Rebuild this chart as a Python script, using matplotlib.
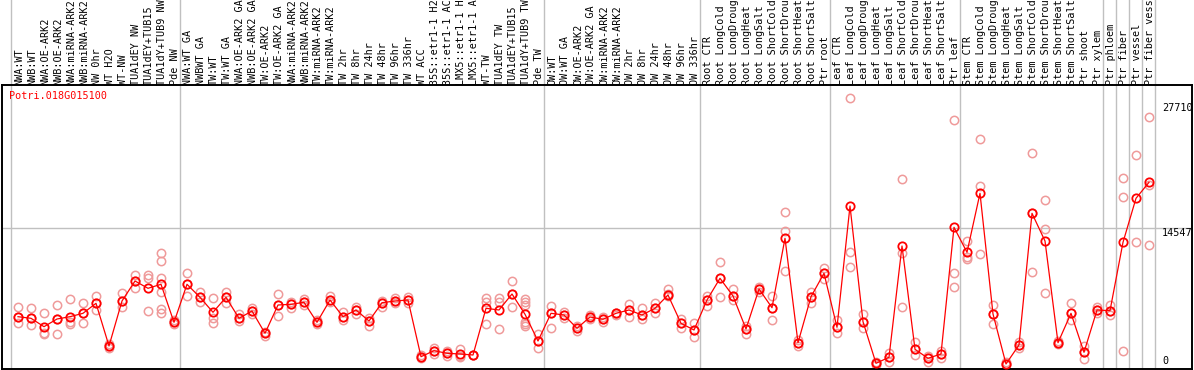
import matplotlib
matplotlib.use("Agg")
import matplotlib.pyplot as plt

labels = [
    "NWA:WT", "NWB:WT", "NWA:OE-ARK2", "NWB:OE-ARK2", "NWA:miRNA-ARK2", "NWB:miRNA-ARK2",
    "NW 0hr", "WT H2O", "WT-NW", "TUA1dEY NW", "TUA1dEY+TUB15", "TUA1dY+TUB9 NW", "Pde NW",
    "NWA:WT GA", "NWBWT GA", "TW:WT", "TW:WT GA", "NWA:OE-ARK2 GA", "NWB:OE-ARK2 GA",
    "TW:OE-ARK2", "TW:OE-ARK2 GA", "NWA:miRNA-ARK2", "NWB:miRNA-ARK2", "TW:miRNA-ARK2",
    "TW:miRNA-ARK2", "TW 2hr", "TW 8hr", "TW 24hr", "TW 48hr", "TW 96hr", "TW 336hr",
    "WT ACC", "35S::etr1-1 H2O", "35S::etr1-1 ACC", "LMX5::etr1-1 H2O", "LMX5::etr1-1 ACC",
    "WT-TW", "TUA1dEY TW", "TUA1dEY+TUB15", "TUA1dY+TUB9 TW", "Pde TW",
    "OW:WT", "OW:WT GA", "OW:OE-ARK2", "OW:OE-ARK2 GA", "OW:miRNA-ARK2", "OW:miRNA-ARK2",
    "OW 2hr", "OW 8hr", "OW 24hr", "OW 48hr", "OW 96hr", "OW 336hr",
    "Root CTR", "Root LongCold", "Root LongDrought", "Root LongHeat", "Root LongSalt",
    "Root ShortCold", "Root ShortDrought", "Root ShortHeat", "Root ShortSalt", "Ptr root",
    "Leaf CTR", "Leaf LongCold", "Leaf LongDrought", "Leaf LongHeat", "Leaf LongSalt",
    "Leaf ShortCold", "Leaf ShortDrought", "Leaf ShortHeat", "Leaf ShortSalt", "Ptr leaf",
    "Stem CTR", "Stem LongCold", "Stem LongDrought", "Stem LongHeat", "Stem LongSalt",
    "Stem ShortCold", "Stem ShortDrought", "Stem ShortHeat", "Stem ShortSalt",
    "Ptr shoot", "Ptr xylem", "Ptr phloem", "Ptr fiber", "Ptr vessel", "Ptr fiber vessel",
]

means = [
    5197, 5028, 4143, 4954, 5197, 5555, 6609, 2108, 6852, 8960, 8190, 8612, 4606,
    8612, 7242, 5661, 7242, 5028, 5798, 3447, 6430, 6504, 6715, 4606, 6957, 5197,
    5903, 4743, 6673, 6852, 6957, 980, 1613, 1339, 1265, 1160, 6082, 5903, 7590,
    5450, 2635,
    5555, 5376, 3974, 5165, 4923, 5555, 5903, 5376, 6082, 7484, 4501, 3795,
    6957, 9245, 7379, 3900, 8117, 6145, 13461, 2456, 7305, 9772,
    4079, 16866, 4670, 285, 917, 12649, 1760, 812, 1265, 14620,
    11985, 18204, 5481, 211, 2214, 16096, 13176, 2456, 5555, 1444, 5903,
    5829, 13039, 17677, 19364,
]

replicates = [
    [6188, 5165, 4533], [6082, 5060, 4322], [5555, 3510, 3373], [6430, 4954, 3342],
    [7062, 4638, 4396], [6609, 5587, 4501], [7379, 6641, 5903], [2319, 2108, 1897],
    [7663, 6852, 6188], [9592, 8960, 8254], [9592, 9245, 5829],
    [11880, 11100, 9245, 7769, 5977, 5618], [4849, 4638, 4427],
    [9772, 8612, 7379], [7769, 7274, 6778], [7200, 5028, 4564], [7769, 7242, 6673],
    [5450, 5028, 4743], [6082, 5798, 5481], [3573, 3447, 3162], [7590, 6430, 5302],
    [6778, 6504, 6082], [7062, 6715, 6430], [4849, 4606, 4427], [7379, 6957, 6715],
    [5724, 5197, 4849], [6251, 5903, 5450], [5091, 4743, 4216], [6883, 6673, 6188],
    [7136, 6852, 6609], [7305, 6957, 6609], [1160, 980, 812], [1929, 1613, 1265],
    [1581, 1339, 1054], [1824, 1054, 950], [1210, 1160, 1110], [7136, 6778, 4427],
    [7136, 6778, 3900], [8960, 7590, 6188], [7031, 6778, 6430, 4670, 4427, 4216],
    [3373, 2635, 1866],
    [6325, 5555, 4037], [5724, 5376, 5028], [4216, 3974, 3721], [5376, 5165, 4954],
    [5197, 4923, 4670], [5618, 5555, 5376], [6504, 5903, 5197], [6082, 5376, 4923],
    [6673, 6082, 5555], [8117, 7590, 7379], [4923, 4501, 3974], [4501, 3795, 3089],
    [7379, 6957, 6325], [10994, 9245, 7305], [8085, 7379, 6957], [4216, 3900, 3373],
    [8359, 8117, 7832], [7379, 6145, 4849], [16202, 14230, 10046], [2741, 2456, 2108],
    [7832, 7305, 6609], [10362, 9772, 9139],
    [4849, 4079, 3510], [28218, 12048, 10467], [5481, 4670, 3974], [422, 285, 105],
    [1339, 917, 453], [19680, 11880, 6251], [2498, 1760, 1160], [1054, 812, 453],
    [1581, 1265, 812], [25931, 9772, 8296],
    [13208, 11490, 11279], [23896, 18974, 11806], [6430, 5481, 4427], [369, 211, 53],
    [2562, 2214, 1929], [22421, 16096, 9877], [17498, 14441, 7727], [2583, 2456, 2319],
    [6609, 5555, 4849], [2140, 1444, 706], [6188, 5903, 5618],
    [6430, 5829, 5376], [19785, 17783, 1613], [22242, 13103], [26216, 19079, 12755],
]

group_bounds = [-0.5, 12.5, 40.5, 52.5, 62.5, 72.5, 83.5, 84.5, 85.5, 86.5, 87.5]
tick_values = [27710, 14547, 0]
gene = "Potri.018G015100"

W, H = 1194, 370
fig = plt.figure(figsize=(W / 100, H / 100), dpi=100)
ax_l, ax_r, ax_t, ax_b = 1.5, 1192, 85, 369
ax = fig.add_axes([ax_l / W, (H - ax_b) / H, (ax_r - ax_l) / W, (ax_b - ax_t) / H])

# pixel mapping: column i at x = 18 + 13 i
ax.set_xlim((ax_l - 18) / 13, (ax_r - 18) / 13)
slope = 138 / 14547.0
ax.set_ylim(-(ax_b - 366) / slope, (366 - ax_t) / slope)

mono = "DejaVu Sans Mono"
grid_c = "#c0c0c0"
ext = (H - ax_b + (ax_b - ax_t) + ax_t) / (ax_b - ax_t)
for b in group_bounds:
    ax.axvline(b, ymin=0, ymax=(ax_b) / (ax_b - ax_t), color=grid_c, lw=1.0,
               clip_on=False, zorder=0)
ax.axhline(14547, color=grid_c, lw=1.0, zorder=0)

xs = list(range(len(labels)))
for i, reps in enumerate(replicates):
    ax.plot([i] * len(reps), reps, linestyle="none", marker="o", ms=6.0,
            mfc="none", mec="#ef9a9a", mew=1.1, zorder=2, clip_on=False)

ax.plot(xs, means, color="#ff0000", lw=0.9, zorder=3)
ax.plot(xs, means, linestyle="none", marker="o", ms=6.0, mfc="none",
        mec="#ff0000", mew=1.3, zorder=4)

for i, lab in enumerate(labels):
    ax.text(i + 0.1, 1.0, lab, transform=ax.get_xaxis_transform(), rotation=90,
            ha="center", va="bottom", fontsize=7.3, family=mono, color="black",
            clip_on=False)
    
ax.text((9 - 18) / 13, 28500, gene, color="#ff0000", fontsize=7.3, family=mono,
        ha="left", va="center")

tx = (1162 - 18) / 13
ax.text(tx, tick_values[0], str(tick_values[0]), fontsize=7.3, family=mono,
        ha="left", va="top")
ax.text(tx, tick_values[1], str(tick_values[1]), fontsize=7.3, family=mono,
        ha="left", va="top")
ax.text(tx, tick_values[2], str(tick_values[2]), fontsize=7.3, family=mono,
        ha="left", va="bottom")

ax.set_xticks([])
ax.set_yticks([])
for s in ax.spines.values():
    s.set_color("black")
    s.set_linewidth(1.4)

fig.savefig("out.png", dpi=100)
